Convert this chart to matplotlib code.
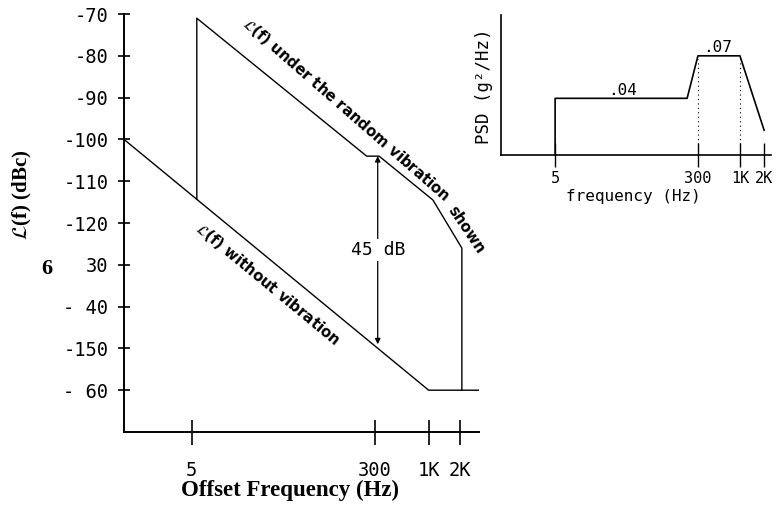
import matplotlib
matplotlib.use("agg")
from matplotlib import pyplot as plt
from matplotlib.transforms import blended_transform_factory

plt.rcParams["mathtext.fontset"] = "stix"

# offset frequency (Hz) vs. single-sideband phase noise (dBc)
quiet_freq = [1.1, 1000, 3080]
quiet_level = [-100, -160, -160]
vib_freq = [5.6, 5.6, 250, 330, 1100, 2100, 2100]
vib_level = [-114.3, -71, -104, -104, -114.5, -126, -160]

# degradation marker
gap_freq = 320
gap_top = -104
gap_db = 45

y_ticks = [-70, -80, -90, -100, -110, -120, -130, -140, -150, -160]
y_tick_labels = ["-70", "-80", "-90", "-100", "-110", "-120", "30", "- 40", "-150", "- 60"]
x_ticks = [5, 300, 1000, 2000]
x_tick_labels = ["5", "300", "1K", "2K"]

# random vibration profile
psd_freq = [5, 5, 220, 300, 1000, 2000]
psd_level = [0, 0.04, 0.04, 0.07, 0.07, 0.0175]
psd_marks = [(35, 0.04), (520, 0.07)]
psd_corners = [300, 1000]

mono = "DejaVu Sans Mono"
serif = "Liberation Serif"
curve_font = dict(family="DejaVu Sans", fontweight="bold", fontsize=10.7,
                  rotation_mode="anchor", ha="center", va="center")

fig = plt.figure(figsize=(7.81, 5.16), dpi=100)

ax = fig.add_axes([0.1588, 0.1628, 0.4545, 0.810])
ax.set_xscale("log")
ax.set_xlim(1.1, 3080)
ax.set_ylim(-170, -70)
for s in ("top", "right"):
    ax.spines[s].set_visible(False)
for s in ("left", "bottom"):
    ax.spines[s].set_linewidth(1.4)

ax.plot(quiet_freq, quiet_level, color="black", lw=1.0)
ax.plot(vib_freq, vib_level, color="black", lw=1.0)

ax.annotate("", xy=(gap_freq, gap_top), xytext=(gap_freq, gap_top - gap_db),
            arrowprops=dict(arrowstyle="<|-|>", color="black", lw=0.9,
                            mutation_scale=8, shrinkA=0, shrinkB=0))
ax.text(gap_freq, gap_top - gap_db / 2, f"{gap_db} dB", ha="center", va="center",
        family=mono, fontsize=13,
        bbox=dict(facecolor="white", edgecolor="none", pad=1.5))

# curve captions follow the bends of the lines
ax.text(157, -92.9, r"$\mathcal{L}$(f) under the random vibration", rotation=-41.1, **curve_font)
ax.text(2300, -121.7, "shown", rotation=-56, **curve_font)
ax.text(27.2, -134.7, r"$\mathcal{L}$(f) without vibration", rotation=-39.6, **curve_font)

ax.set_yticks(y_ticks)
ax.set_yticklabels(y_tick_labels, family=mono, fontsize=13.5)
ax.set_xticks(x_ticks)
ax.set_xticklabels(x_tick_labels, family=mono, fontsize=13.5)
ax.minorticks_off()
ax.tick_params(axis="y", direction="inout", length=8.6, width=1.2, pad=7)
ax.tick_params(axis="x", direction="inout", length=18, width=1.2, pad=12)

ax.text(-0.217, -131, "6", transform=blended_transform_factory(ax.transAxes, ax.transData),
        ha="center", va="center", family=serif, fontweight="bold", fontsize=16)

ax.set_xlabel("Offset Frequency (Hz)", family=serif, fontweight="bold", fontsize=16.5)
ax.xaxis.set_label_coords(0.468, -0.139)
ax.xaxis.label.set_va("center")
ax.set_ylabel(r"$\mathcal{L}$(f) (dBc)", family=serif, fontweight="bold", fontsize=15)
ax.yaxis.set_label_coords(-0.285, 0.567)
ax.yaxis.label.set_va("center")

# inset: vibration PSD
ins = fig.add_axes([0.6415, 0.6996, 0.3457, 0.2713])
ins.set_xscale("log")
ins.set_xlim(1.06, 2437)
ins.set_ylim(0, 0.0988)
for s in ("top", "right"):
    ins.spines[s].set_visible(False)
for s in ("left", "bottom"):
    ins.spines[s].set_linewidth(1.2)

ins.plot(psd_freq, psd_level, color="black", lw=1.2)
ins.vlines(psd_corners, 0.008, 0.068, colors="black", linestyles=(0, (1, 3)), lw=0.8)
for f, v in psd_marks:
    ins.annotate(f"{v:.2f}".lstrip("0"), xy=(f, v), xytext=(0, 0.5),
                 textcoords="offset points", ha="center", va="bottom",
                 family=mono, fontsize=11.5)

ins.set_yticks([])
ins.set_xticks(x_ticks)
ins.set_xticklabels(x_tick_labels, family=mono, fontsize=11)
ins.minorticks_off()
ins.tick_params(axis="x", direction="inout", length=17, width=1.0, pad=3)
ins.set_xlabel("frequency (Hz)", family=mono, fontsize=11.5)
ins.xaxis.set_label_coords(0.489, -0.295)
ins.xaxis.label.set_va("center")
ins.set_ylabel("PSD (g²/Hz)", family=mono, fontsize=12.5)
ins.yaxis.set_label_coords(-0.063, 0.493)
ins.yaxis.label.set_va("center")

fig.savefig("out.png", dpi=100)
